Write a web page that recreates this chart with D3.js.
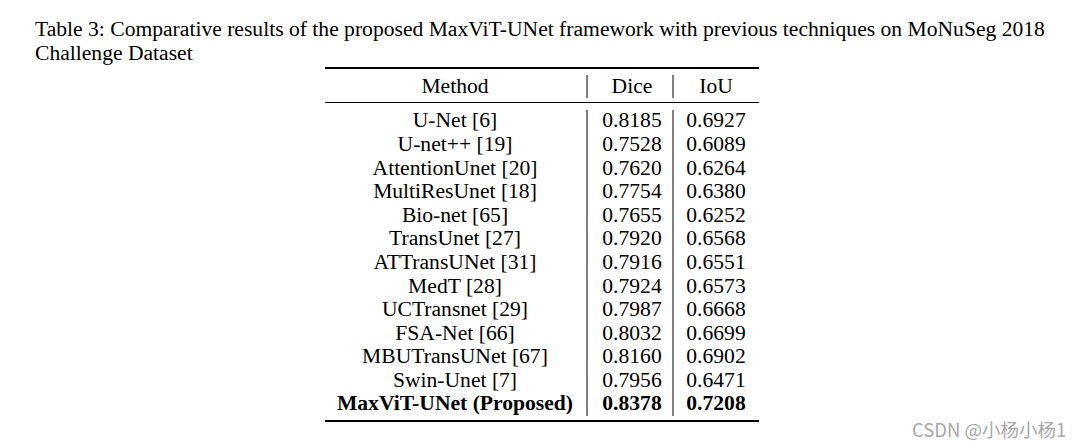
<!DOCTYPE html>
<html><head><meta charset="utf-8">
<script src="https://cdn.jsdelivr.net/npm/d3@7"></script>
<style>body{margin:0;background:#fff}svg{display:block}</style>
</head><body>
<svg id="c" width="1083" height="448"></svg>
<script>
const titleLines = ["Table 3: Comparative results of the proposed MaxViT-UNet framework with previous techniques on MoNuSeg 2018", "Challenge Dataset"];
const columns = ["Method", "Dice", "IoU"];
const methods = ["U-Net [6]", "U-net++ [19]", "AttentionUnet [20]", "MultiResUnet [18]", "Bio-net [65]", "TransUnet [27]", "ATTransUNet [31]", "MedT [28]", "UCTransnet [29]", "FSA-Net [66]", "MBUTransUNet [67]", "Swin-Unet [7]", "MaxViT-UNet (Proposed)"];
const dice = ["0.8185", "0.7528", "0.7620", "0.7754", "0.7655", "0.7920", "0.7916", "0.7924", "0.7987", "0.8032", "0.8160", "0.7956", "0.8378"];
const iou = ["0.6927", "0.6089", "0.6264", "0.6380", "0.6252", "0.6568", "0.6551", "0.6573", "0.6668", "0.6699", "0.6902", "0.6471", "0.7208"];
const boldRow = "MaxViT-UNet (Proposed)";
const watermark = "CSDN @小杨小杨1";

const svg = d3.select("#c");
const font = "'Liberation Serif','Times New Roman',serif";
const fs = 21.6;

svg.selectAll("text.title").data(titleLines).join("text")
  .attr("class","title").attr("x",35).attr("y",(d,i)=>36+i*24)
  .attr("font-family",font).attr("font-size",fs).attr("fill","#000").text(d=>d);

const left = 325, right = 759, v1 = 587, v2 = 673;
const colX = [(left+v1)/2 - 1, (v1+v2)/2 + 2, (v2+right)/2 + 0];
const y = d3.scaleBand().domain(methods).range([108.7, 415.2]).paddingInner(0).paddingOuter(0);

// rules
svg.append("line").attr("x1",left).attr("x2",right).attr("y1",68).attr("y2",68).attr("stroke","#000").attr("stroke-width",2);
svg.append("line").attr("x1",left).attr("x2",right).attr("y1",102.5).attr("y2",102.5).attr("stroke","#000").attr("stroke-width",1.2);
svg.append("line").attr("x1",left).attr("x2",right).attr("y1",421).attr("y2",421).attr("stroke","#000").attr("stroke-width",2);
[v1, v2].forEach(x=>{
  svg.append("line").attr("x1",x).attr("x2",x).attr("y1",75).attr("y2",98).attr("stroke","#000").attr("stroke-width",1);
  svg.append("line").attr("x1",x).attr("x2",x).attr("y1",110).attr("y2",416).attr("stroke","#000").attr("stroke-width",1);
});

// header
svg.selectAll("text.hdr").data(columns).join("text").attr("class","hdr")
  .attr("x",(d,i)=>colX[i]).attr("y",92.5).attr("text-anchor","middle")
  .attr("font-family",font).attr("font-size",fs).text(d=>d);

// rows
const rows = methods.map((m,i)=>({m, d:dice[i], u:iou[i]}));
const g = svg.selectAll("g.row").data(rows).join("g").attr("class","row")
  .attr("transform",d=>`translate(0,${y(d.m)+y.bandwidth()/2+7})`)
  .attr("font-family",font).attr("font-size",fs)
  .attr("font-weight",d=>d.m===boldRow?"bold":"normal");
g.append("text").attr("x",colX[0]).attr("text-anchor","middle").text(d=>d.m);
g.append("text").attr("x",colX[1]).attr("text-anchor","middle").text(d=>d.d);
g.append("text").attr("x",colX[2]).attr("text-anchor","middle").text(d=>d.u);

svg.append("text").attr("x",912).attr("y",437).attr("font-family","'Noto Sans CJK SC','Noto Sans',sans-serif")
  .attr("font-size",18.5).attr("fill","#a8a8a8").text(watermark);
</script>
</body></html>
